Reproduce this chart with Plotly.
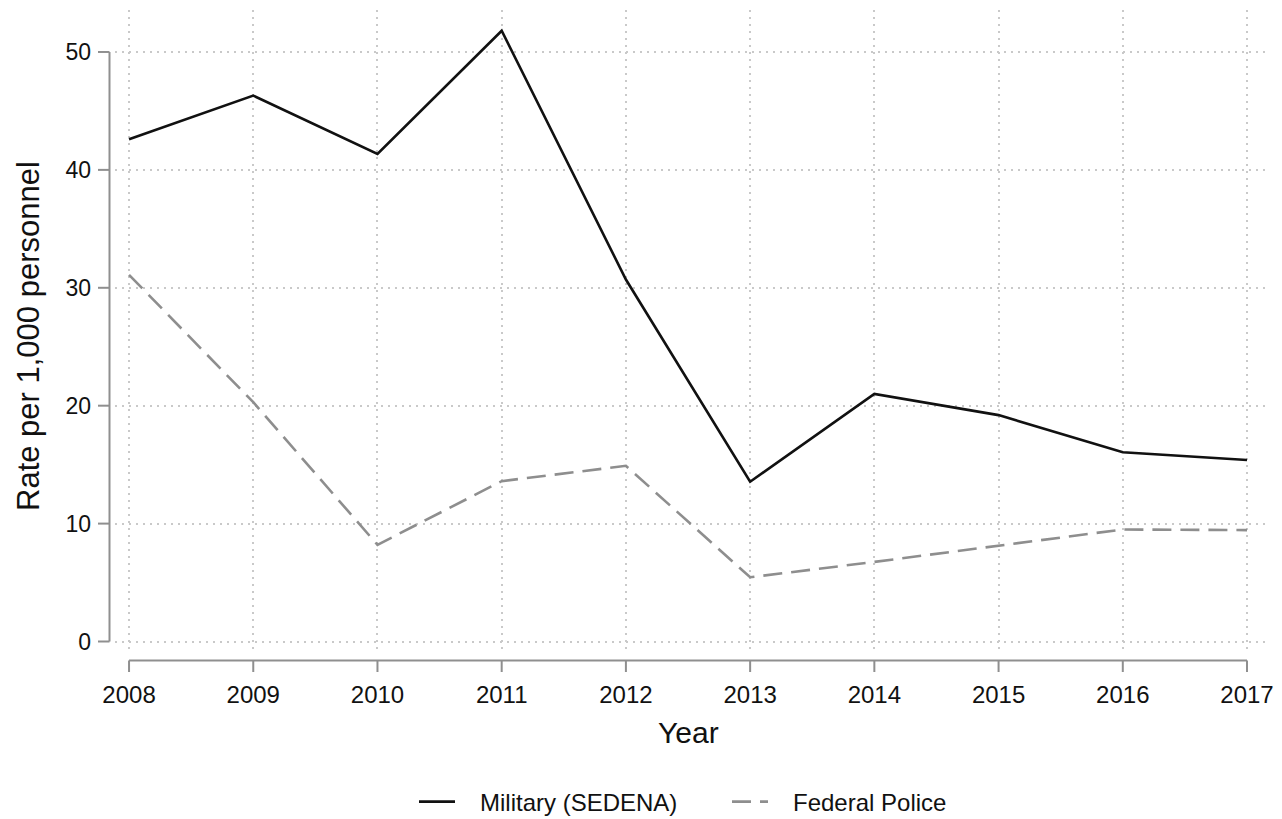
import plotly.graph_objects as go

years = [2008, 2009, 2010, 2011, 2012, 2013, 2014, 2015, 2016, 2017]
military = [42.6, 46.3, 41.35, 51.8, 30.7, 13.55, 21.0, 19.2, 16.05, 15.4]
federal_police = [31.1, 20.3, 8.2, 13.6, 14.9, 5.45, 6.75, 8.1, 9.5, 9.45]
y_ticks = [0, 10, 20, 30, 40, 50]
x_tick_labels = [str(y) for y in years]
series_names = ["Military (SEDENA)", "Federal Police"]

OFF = 8  # page body margin
W, H = 1282 - OFF, 819 - OFF
L, T = 115 - OFF, 10 - OFF
R = W - (1268 - OFF)
B = H - (653 - OFF)
pw, ph = W - L - R, H - T - B

def px_x(p):
    return (p - OFF - L) / pw

def px_y(p):
    return (T + ph - (p - OFF)) / ph

axis_col = "#8f8f8f"
grid_col = "#c9c9c9"
font_fam = "Liberation Sans, Arial, sans-serif"
NB = "\u00a0\u00a0\u00a0"

fig = go.Figure()
fig.add_trace(go.Scatter(x=years, y=military, mode="lines", name=NB + series_names[0],
                         line=dict(color="#111111", width=2.6)))
fig.add_trace(go.Scatter(x=years, y=federal_police, mode="lines", name=NB + series_names[1],
                         line=dict(color="#8e8e8e", width=2.6, dash="19px,9px")))

shapes = []
shapes.append(dict(type="line", xref="paper", yref="y", x0=px_x(109.5), x1=px_x(109.5),
                   y0=min(y_ticks), y1=max(y_ticks), line=dict(color=axis_col, width=2)))
for v in y_ticks:
    shapes.append(dict(type="line", xref="paper", yref="y", x0=px_x(98), x1=px_x(109.5),
                       y0=v, y1=v, line=dict(color=axis_col, width=2)))
shapes.append(dict(type="line", xref="x", yref="paper", x0=min(years), x1=max(years),
                   y0=px_y(660.5), y1=px_y(660.5), line=dict(color=axis_col, width=2)))
for yr in years:
    shapes.append(dict(type="line", xref="x", yref="paper", x0=yr, x1=yr,
                       y0=px_y(660.5), y1=px_y(672), line=dict(color=axis_col, width=2)))

fig.update_layout(
    width=W, height=H,
    margin=dict(l=L, r=R, t=T, b=B, autoexpand=False),
    paper_bgcolor="white", plot_bgcolor="white",
    font=dict(family=font_fam, color="#111111"),
    showlegend=True,
    legend=dict(orientation="h", x=px_x(414), xanchor="left", y=px_y(802), yanchor="middle",
                font=dict(size=24, color="#111111"), itemwidth=36, traceorder="normal",
                entrywidth=262, entrywidthmode="pixels"),
    shapes=shapes,
    xaxis=dict(range=[2007.887, 2017.169], tickvals=years, ticktext=x_tick_labels,
               showgrid=True, gridcolor=grid_col, gridwidth=1.5, griddash="2px,5px",
               zeroline=False, showline=False, ticks="", ticklabelstandoff=25,
               tickfont=dict(size=24, color="#111111"), automargin=False),
    yaxis=dict(range=[-0.975, 53.56], tickvals=y_ticks, ticktext=[str(v) for v in y_ticks],
               showgrid=True, gridcolor=grid_col, gridwidth=1.5, griddash="2px,5px",
               zeroline=False, showline=False, ticks="", ticklabelstandoff=23,
               tickfont=dict(size=23, color="#111111"), automargin=False),
    annotations=[
        dict(text="Rate per 1,000 personnel", textangle=-90, xref="paper", yref="paper",
             x=px_x(28), y=px_y(336), xanchor="center", yanchor="middle", showarrow=False,
             font=dict(size=31, color="#111111")),
        dict(text="Year", xref="paper", yref="paper", x=px_x(688), y=px_y(733),
             xanchor="center", yanchor="middle", showarrow=False,
             font=dict(size=30, color="#111111")),
    ],
)

fig.write_html("out.html")
